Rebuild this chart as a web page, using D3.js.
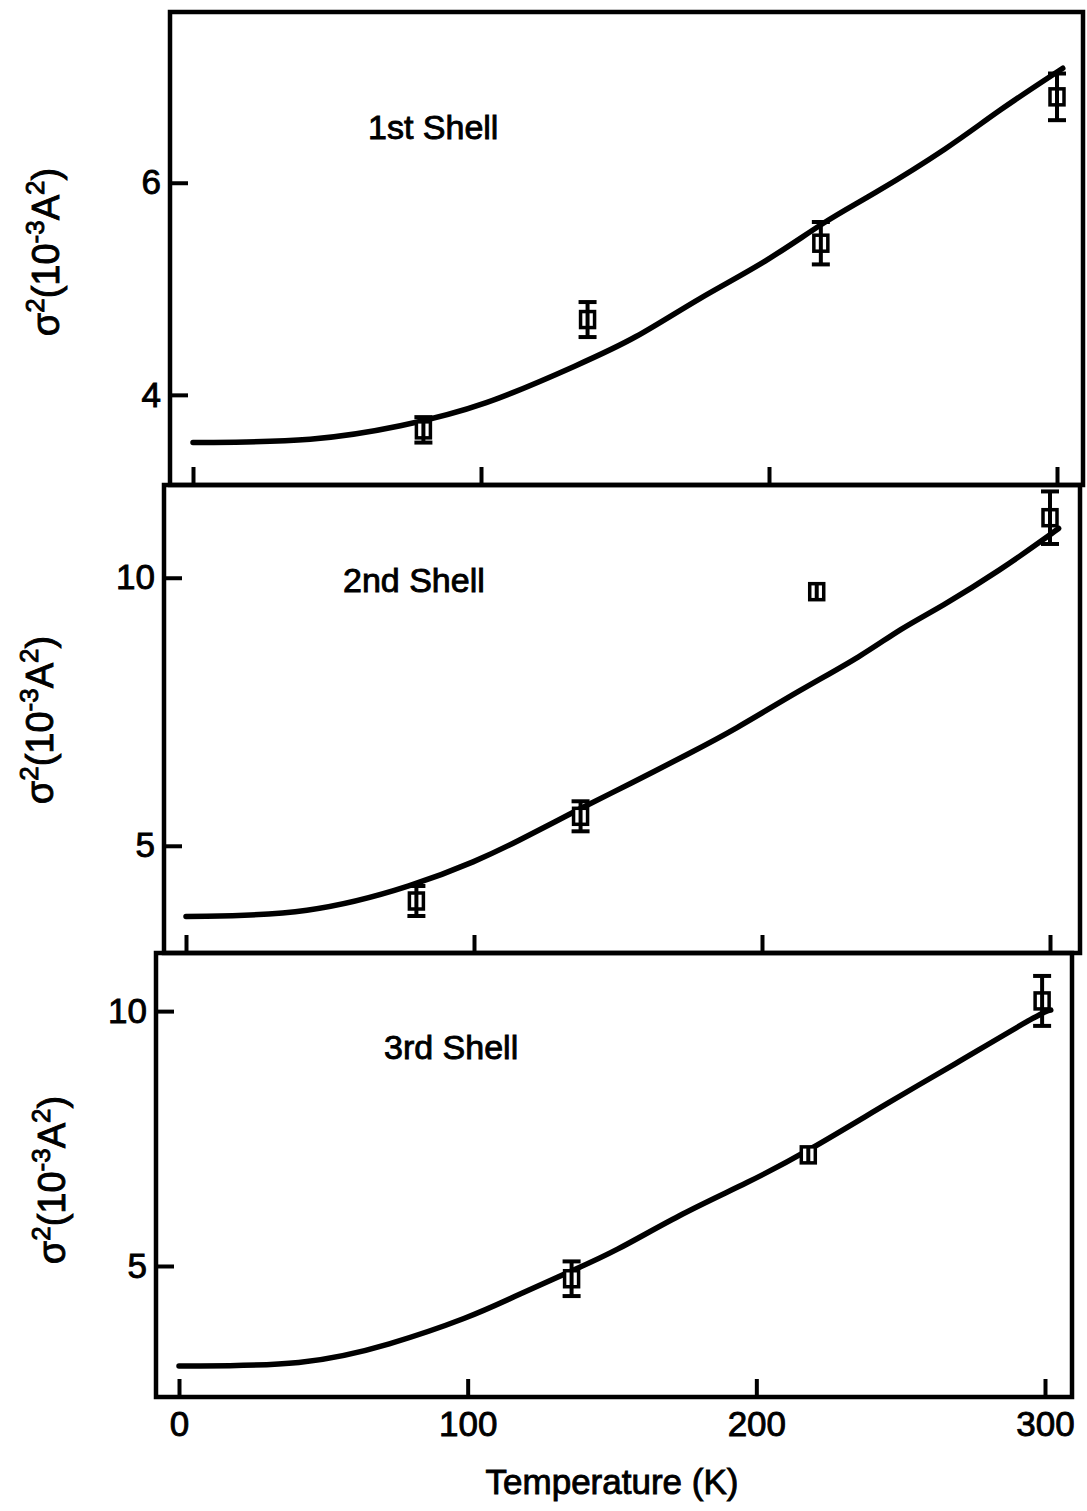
<!DOCTYPE html>
<html lang="en">
	<head>
		<meta charset="utf-8">
		<title>Debye-Waller factors vs temperature</title>
		<script type="text/javascript" src="https://cdn.jsdelivr.net/npm/d3@7"></script>
		<style>
			body { margin: 0; background: #fff; }
			text { font-family: "Liberation Sans", Arial, sans-serif; fill: #000; stroke: #000; stroke-width: 0.9; }
			.frame { fill: none; stroke: #000; stroke-width: 4.5; }
			.axis path { display: none; }
			.axis line { stroke: #000; stroke-width: 4; }
			.curve { fill: none; stroke: #000; stroke-width: 5.5; stroke-linejoin: round; stroke-linecap: round; }
			.err { stroke: #000; stroke-width: 4; }
			.sq { fill: #fff; stroke: #000; stroke-width: 3.5; }
		</style>
	</head>
	<body>
		<div id="vis"></div>

		<script type="text/javascript">
			// values
			var xTicks = [0, 100, 200, 300];
			var xLabel = "Temperature (K)";
			var shellNames = ["1st Shell", "2nd Shell", "3rd Shell"];
			var yTicks = [[4, 6], [5, 10], [5, 10]];

			// calculated curves (T in K, sigma^2 in 10^-3 A^2)
			var shell1CurveT = [0, 43, 72, 101, 135, 153, 176, 199, 220, 235, 263, 279, 302];
			var shell1CurveV = [3.55, 3.56, 3.70, 3.89, 4.30, 4.52, 4.92, 5.25, 5.65, 5.87, 6.34, 6.67, 7.08];
			var shell2CurveT = [0, 43, 80, 101, 114, 137, 154, 175, 190, 213, 235, 248, 262, 283, 300, 303];
			var shell2CurveV = [3.68, 3.71, 4.27, 4.72, 5.05, 5.70, 6.15, 6.73, 7.15, 7.90, 8.55, 9.05, 9.45, 10.15, 10.80, 10.92];
			var shell3CurveT = [0, 44, 73, 101, 115, 136.5, 150, 175, 197, 217.5, 247, 267, 299, 302];
			var shell3CurveV = [3.04, 3.04, 3.45, 4.00, 4.37, 4.92, 5.25, 6.06, 6.63, 7.24, 8.25, 8.90, 9.98, 10.02];

			// measured points with error bars
			var shell1PtsT = [80, 137, 218, 300];
			var shell1PtsV = [3.67, 4.71, 5.43, 6.81];
			var shell1PtsE = [0.12, 0.165, 0.20, 0.22];
			var shell2PtsT = [80, 137, 219, 300];
			var shell2PtsV = [3.97, 5.55, 9.74, 11.12];
			var shell2PtsE = [0.28, 0.28, 0.06, 0.49];
			var shell3PtsT = [136, 218, 299];
			var shell3PtsV = [4.75, 7.18, 10.2];
			var shell3PtsE = [0.34, 0.08, 0.49];

			var zip = function(a, b, c) {
				return a.map(function(d, i) { return { t: d, v: b[i], e: c ? c[i] : 0 }; });
			};

			var curves = [zip(shell1CurveT, shell1CurveV), zip(shell2CurveT, shell2CurveV), zip(shell3CurveT, shell3CurveV)];
			var points = [zip(shell1PtsT, shell1PtsV, shell1PtsE), zip(shell2PtsT, shell2PtsV, shell2PtsE), zip(shell3PtsT, shell3PtsV, shell3PtsE)];

			// panel boxes, the scan is a little skewed so each one has its own frame
			var panels = [
				{ left: 170, right: 1083, top: 12, bottom: 485, x0: 193, x300: 1057, ymin: 3.15, ymax: 7.61, labelY: 252, labelX: 46, title: [368, 127] },
				{ left: 164, right: 1080, top: 485, bottom: 953, x0: 186, x300: 1050, ymin: 3.0, ymax: 11.73, labelY: 720, labelX: 40, title: [343, 580] },
				{ left: 156, right: 1072, top: 953, bottom: 1397, x0: 179, x300: 1045, ymin: 2.43, ymax: 11.14, labelY: 1180, labelX: 52, title: [384, 1047] }
			];

			var svg = d3.select("#vis").append("svg").attr("width", 1087).attr("height", 1511);

			panels.forEach(function(p, i) {
				var x = d3.scaleLinear().domain([0, 300]).range([p.x0, p.x300]);
				var y = d3.scaleLinear().domain([p.ymin, p.ymax]).range([p.bottom, p.top]);
				var g = svg.append("g");

				g.append("rect").attr("class", "frame")
					.attr("x", p.left).attr("y", p.top)
					.attr("width", p.right - p.left).attr("height", p.bottom - p.top);

				var xAxis = d3.axisBottom(x).tickValues(xTicks).tickSizeInner(-18).tickSizeOuter(0).tickPadding(14);
				if (i < 2) xAxis.tickFormat("");
				var ax = g.append("g").attr("class", "axis").attr("transform", "translate(0," + p.bottom + ")").call(xAxis);
				ax.selectAll("text").attr("font-size", 35).attr("dy", "0.71em");

				var yAxis = d3.axisLeft(y).tickValues(yTicks[i]).tickSizeInner(-18).tickSizeOuter(0).tickPadding(9).tickFormat(d3.format("d"));
				var ay = g.append("g").attr("class", "axis").attr("transform", "translate(" + p.left + ",0)").call(yAxis);
				ay.selectAll("text").attr("font-size", 35);

				var line = d3.line().x(function(d) { return x(d.t); }).y(function(d) { return y(d.v); }).curve(d3.curveBasis);
				g.append("path").attr("class", "curve").attr("d", line(curves[i]));

				var pt = g.selectAll(".pt").data(points[i]).enter().append("g").attr("class", "pt");
				pt.append("rect").attr("class", "sq")
					.attr("x", function(d) { return x(d.t) - 7; })
					.attr("y", function(d) { return y(d.v) - 8; })
					.attr("width", 14).attr("height", 16);
				pt.append("line").attr("class", "err")
					.attr("x1", function(d) { return x(d.t); }).attr("x2", function(d) { return x(d.t); })
					.attr("y1", function(d) { return Math.min(y(d.v + d.e), y(d.v) - 8); })
					.attr("y2", function(d) { return Math.max(y(d.v - d.e), y(d.v) + 8); });
				pt.filter(function(d) { return d.e > 0.1; }).each(function(d) {
					var s = d3.select(this);
					[d.v + d.e, d.v - d.e].forEach(function(v) {
						s.append("line").attr("class", "err")
							.attr("x1", x(d.t) - 9).attr("x2", x(d.t) + 9)
							.attr("y1", y(v)).attr("y2", y(v));
					});
				});

				g.append("text").attr("x", p.title[0]).attr("y", p.title[1]).attr("dy", "0.35em")
					.attr("font-size", 34).text(shellNames[i]);

				// sigma^2 (10^-3 A^2)
				var lab = g.append("text").attr("font-size", 38).attr("text-anchor", "middle")
					.attr("transform", "translate(" + p.labelX + "," + p.labelY + ") rotate(-90)")
					.attr("dy", "0.35em");
				lab.append("tspan").text("σ");
				lab.append("tspan").attr("font-size", 26).attr("dy", -15).text("2");
				lab.append("tspan").attr("dy", 15).text("(10");
				lab.append("tspan").attr("font-size", 26).attr("dy", -15).text("-3");
				lab.append("tspan").attr("dy", 15).text("A");
				lab.append("tspan").attr("font-size", 26).attr("dy", -15).text("2");
				lab.append("tspan").attr("dy", 15).text(")");
			});

			svg.append("text").attr("x", 612).attr("y", 1482).attr("dy", "0.35em")
				.attr("text-anchor", "middle").attr("font-size", 35).text(xLabel);
		</script>
	</body>
</html>
